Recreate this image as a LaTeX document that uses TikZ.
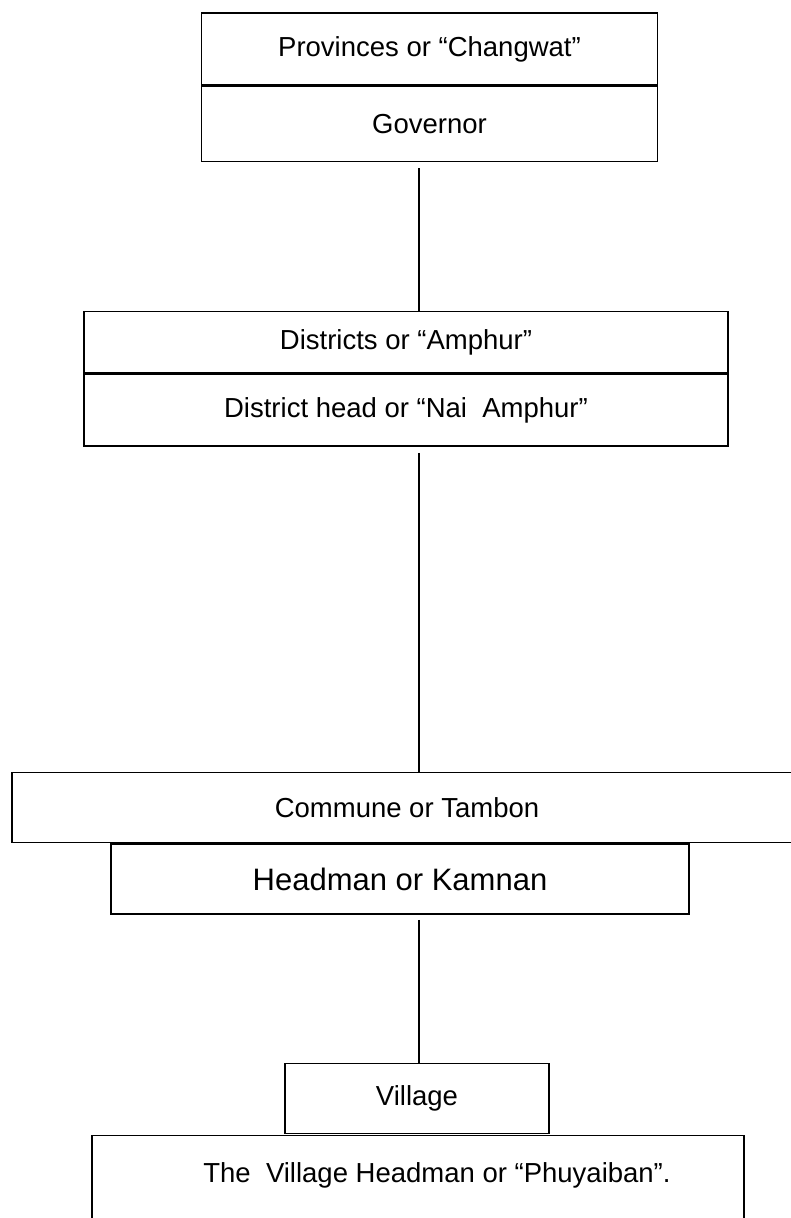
\documentclass[tikz,border=0pt]{standalone}
\usepackage{fontspec}
\setmainfont{Liberation Sans}
\usetikzlibrary{positioning}
\tikzset{lvl/.style = {draw, rectangle, line width = 1.6pt, inner sep = 0, font = \fontsize{27.5}{33}\selectfont}}
\tikzset{link/.style = {line width = 1.3pt}}

\begin{document}
\begin{tikzpicture}[x = 1pt, y = -1pt]
    \useasboundingbox (0, 0) rectangle (790, 1218);
    \coordinate (spine) at (419, 0);

    \node [lvl, minimum width = 456, minimum height = 72] (prov) at (429.5, 49) {Provinces or “Changwat”};
    \node [lvl, minimum width = 456, minimum height = 75, below = 0pt of prov] (gov) {Governor};

    \node [lvl, minimum width = 644, minimum height = 61] (dist) at (406, 342) {Districts or “Amphur”};
    \node [lvl, minimum width = 644, minimum height = 72, below = 0pt of dist] (dhead) {District head or “Nai\ \ Amphur”};

    \node [lvl, minimum width = 790, minimum height = 70] (comm) at (407, 807.5) {Commune or Tambon};
    \node [lvl, minimum width = 578, minimum height = 70, font = \fontsize{31}{37}\selectfont] (kamnan) at (400, 879) {Headman or Kamnan};

    \node [lvl, minimum width = 264, minimum height = 70] (vill) at (417, 1098.5) {Village};
    \node [lvl, minimum width = 652, minimum height = 120] (vhead) at (418, 1195.5) {};
    \node [font = \fontsize{27.5}{33}\selectfont] (vheadtext) at (437, 1175) {The\ \ Village Headman or “Phuyaiban”.};

    \draw [link, shorten <= 6pt] (gov.south -| spine) -- (dist.north -| spine);
    \draw [link, shorten <= 6pt] (dhead.south -| spine) -- (comm.north -| spine);
    \draw [link, shorten <= 5pt] (kamnan.south -| spine) -- (vill.north -| spine);
\end{tikzpicture}
\end{document}
